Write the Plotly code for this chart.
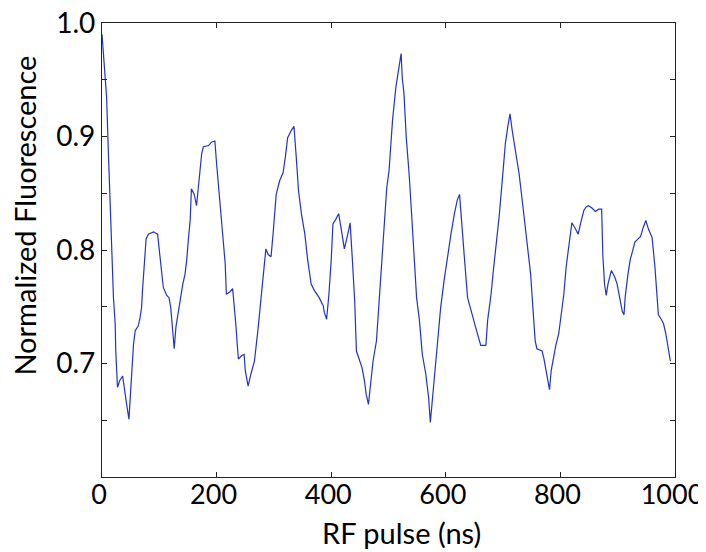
import plotly.graph_objects as go

# RF pulse length (ns) and normalized fluorescence
pulse_ns = [0, 4, 8, 11, 14, 17, 20, 23, 24, 27, 31, 36, 40, 43, 47, 50, 53, 55, 58, 63,
            66, 69, 71, 73, 77, 81, 90, 97, 101, 104, 107, 113, 117, 120, 123, 126, 129, 133, 136, 141,
            145, 148, 151, 154, 156, 161, 165, 168, 171, 174, 177, 186, 191, 197, 200, 203, 205, 209, 211, 213,
            215, 217, 223, 228, 231, 234, 236, 238, 244, 248, 250, 255, 260, 266, 272, 278, 281, 286, 290, 295,
            299, 304, 310, 316, 320, 324, 330, 335, 339, 343, 348, 354, 359, 365, 371, 379, 386, 388, 392, 396,
            400, 403, 408, 413, 417, 423, 429, 433, 437, 441, 444, 449, 454, 458, 461, 465, 468, 473, 479, 484,
            489, 493, 497, 501, 507, 513, 519, 522, 524, 527, 531, 536, 541, 545, 549, 554, 559, 565, 570, 573,
            577, 581, 586, 591, 597, 603, 609, 615, 620, 624, 628, 632, 638, 645, 652, 661, 670, 673, 679, 683,
            687, 693, 698, 704, 708, 712, 716, 722, 728, 734, 740, 745, 748, 752, 756, 759, 768, 771, 775, 779,
            781, 784, 788, 792, 797, 802, 806, 810, 815, 817, 820, 826, 831, 835, 841, 845, 849, 855, 861, 867,
            872, 874, 877, 880, 883, 889, 895, 899, 903, 908, 911, 913, 918, 922, 926, 930, 936, 940, 944, 949,
            954, 960, 965, 969, 971, 976, 980, 984, 988, 992]

fluorescence = [0.990, 0.964, 0.935, 0.888, 0.839, 0.792, 0.758, 0.735, 0.711, 0.679, 0.685, 0.689, 0.673, 0.664, 0.651, 0.679, 0.699, 0.717, 0.729, 0.733,
                0.739, 0.749, 0.767, 0.783, 0.810, 0.814, 0.816, 0.814, 0.794, 0.776, 0.767, 0.760, 0.758, 0.749, 0.730, 0.713, 0.732, 0.746, 0.755, 0.770,
                0.779, 0.792, 0.811, 0.827, 0.854, 0.849, 0.839, 0.855, 0.873, 0.885, 0.891, 0.892, 0.895, 0.896, 0.876, 0.858, 0.849, 0.823, 0.814, 0.796,
                0.788, 0.761, 0.763, 0.766, 0.752, 0.732, 0.717, 0.704, 0.707, 0.708, 0.694, 0.680, 0.691, 0.702, 0.729, 0.761, 0.779, 0.801, 0.796, 0.794,
                0.817, 0.849, 0.861, 0.868, 0.882, 0.899, 0.905, 0.909, 0.882, 0.852, 0.832, 0.814, 0.791, 0.770, 0.764, 0.758, 0.751, 0.745, 0.739, 0.761,
                0.791, 0.823, 0.827, 0.832, 0.820, 0.801, 0.814, 0.824, 0.791, 0.755, 0.711, 0.704, 0.696, 0.685, 0.673, 0.664, 0.679, 0.702, 0.720, 0.758,
                0.791, 0.826, 0.855, 0.870, 0.914, 0.944, 0.964, 0.973, 0.952, 0.938, 0.899, 0.867, 0.826, 0.794, 0.758, 0.738, 0.708, 0.691, 0.670, 0.648,
                0.670, 0.694, 0.720, 0.749, 0.773, 0.796, 0.814, 0.832, 0.844, 0.849, 0.826, 0.796, 0.758, 0.744, 0.732, 0.716, 0.716, 0.738, 0.761, 0.782,
                0.799, 0.829, 0.858, 0.894, 0.908, 0.920, 0.905, 0.885, 0.867, 0.841, 0.814, 0.791, 0.779, 0.749, 0.720, 0.713, 0.711, 0.705, 0.694, 0.683,
                0.677, 0.694, 0.705, 0.716, 0.726, 0.744, 0.761, 0.785, 0.805, 0.817, 0.824, 0.819, 0.814, 0.823, 0.835, 0.838, 0.839, 0.837, 0.834, 0.836,
                0.836, 0.796, 0.770, 0.760, 0.770, 0.782, 0.776, 0.770, 0.758, 0.746, 0.743, 0.758, 0.779, 0.792, 0.799, 0.807, 0.810, 0.812, 0.819, 0.826,
                0.818, 0.811, 0.785, 0.758, 0.743, 0.739, 0.735, 0.726, 0.713, 0.702]

x_ticks = [0, 200, 400, 600, 800, 1000]
x_tick_labels = ["0", "200", "400", "600", "800", "1000"]
y_ticks = [0.6, 0.65, 0.7, 0.75, 0.8, 0.85, 0.9, 0.95, 1.0]
y_tick_labels = ["", "", "0.7", "", "0.8", "", "0.9", "", "1.0"]

FONT = "Lato, 'Open Sans', sans-serif"

fig = go.Figure()
fig.add_trace(go.Scatter(x=pulse_ns, y=fluorescence, mode="lines",
                         line=dict(color="#2233c4", width=1.2), showlegend=False,
                         hoverinfo="skip"))

axis_common = dict(showline=True, linecolor="#222222", linewidth=1.3, mirror="ticks",
                   ticks="inside", ticklen=5, tickwidth=1.2, tickcolor="#222222",
                   showgrid=False, zeroline=False, automargin=False,
                   ticklabeloverflow="allow")

fig.update_xaxes(range=[0, 1000], tickvals=x_ticks, ticktext=x_tick_labels,
                 ticklabelstandoff=-7, ticklabelshift=-3,
                 tickfont=dict(family=FONT, size=27, color="#000000"), **axis_common)
fig.update_yaxes(range=[0.6, 1.0], tickvals=y_ticks, ticktext=y_tick_labels,
                 tickfont=dict(family=FONT, size=28, color="#000000"), **axis_common)

fig.add_annotation(text="RF pulse (ns)", xref="paper", yref="paper", x=0.522, y=-0.122,
                   xanchor="center", yanchor="middle", showarrow=False,
                   font=dict(family=FONT, size=29, color="#000000"))
fig.add_annotation(text="Normalized Fluorescence", xref="paper", yref="paper", x=-0.136, y=0.576,
                   xanchor="center", yanchor="middle", showarrow=False, textangle=-90,
                   font=dict(family=FONT, size=29, color="#000000"))

# the page body adds an 8 px offset, so the figure is sized/margined to land the
# plot frame at the same place as in the reference window
fig.update_layout(width=698, height=544, margin=dict(l=94, r=31, t=15, b=75, autoexpand=False),
                  paper_bgcolor="white", plot_bgcolor="white")

fig.write_html("out.html")
